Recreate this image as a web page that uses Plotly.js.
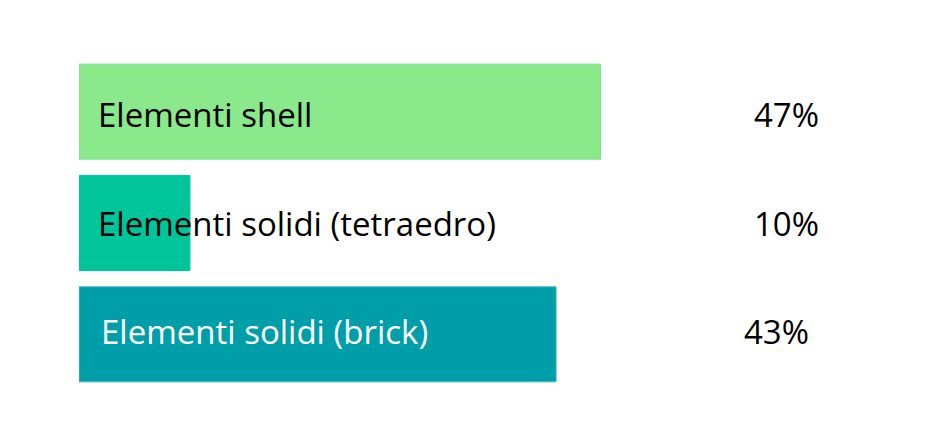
<!DOCTYPE html>
<html>
<head>
<meta charset="utf-8">
<script src="https://cdn.plot.ly/plotly-3.0.1.min.js"></script>
<style>html,body{margin:0;padding:0;background:#fff;}#chart{width:940px;height:442px;}</style>
</head>
<body>
<div id="chart"></div>
<script>
const categories = ["Elementi shell", "Elementi solidi (tetraedro)", "Elementi solidi (brick)"];
const values = [47, 10, 43];
const percentLabels = ["47%", "10%", "43%"];
const barColors = ["#8ae98a", "#00c49a", "#009ea8"];
const barLineColors = ["#7fdf95", "#00c49a", "#4cb8c0"];
const labelColors = ["#000000", "#000000", "#ffffff"];

const font = "Open Sans, sans-serif";
const rowShift = [-3, 0, 2.5];

const trace = {
  type: "bar",
  orientation: "h",
  x: values,
  y: categories,
  marker: {color: barColors, line: {color: barLineColors, width: 1}},
  hoverinfo: "none",
  showlegend: false
};

const annotations = [];
categories.forEach((c, i) => {
  annotations.push({
    x: 0, y: c, xref: "x", yref: "y",
    text: c, showarrow: false,
    xanchor: "left", yanchor: "middle",
    xshift: i === 2 ? 20 : 17, yshift: rowShift[i],
    font: {family: font, size: 33, color: labelColors[i]}
  });
  annotations.push({
    x: 66.8, y: c, xref: "x", yref: "y",
    text: percentLabels[i], showarrow: false,
    xanchor: "right", yanchor: "middle",
    xshift: i === 2 ? -9 : 1, yshift: rowShift[i],
    font: {family: font, size: 33, color: "#000000"}
  });
});

const layout = {
  width: 940, height: 442,
  margin: {l: 79, r: 0, t: 56, b: 52, pad: 0},
  paper_bgcolor: "#ffffff", plot_bgcolor: "#ffffff",
  bargap: 0.146,
  xaxis: {range: [0, 77.6], visible: false, fixedrange: true},
  yaxis: {autorange: "reversed", visible: false, fixedrange: true},
  annotations: annotations,
  font: {family: font}
};

Plotly.newPlot("chart", [trace], layout, {displayModeBar: false, staticPlot: true});
</script>
</body>
</html>
